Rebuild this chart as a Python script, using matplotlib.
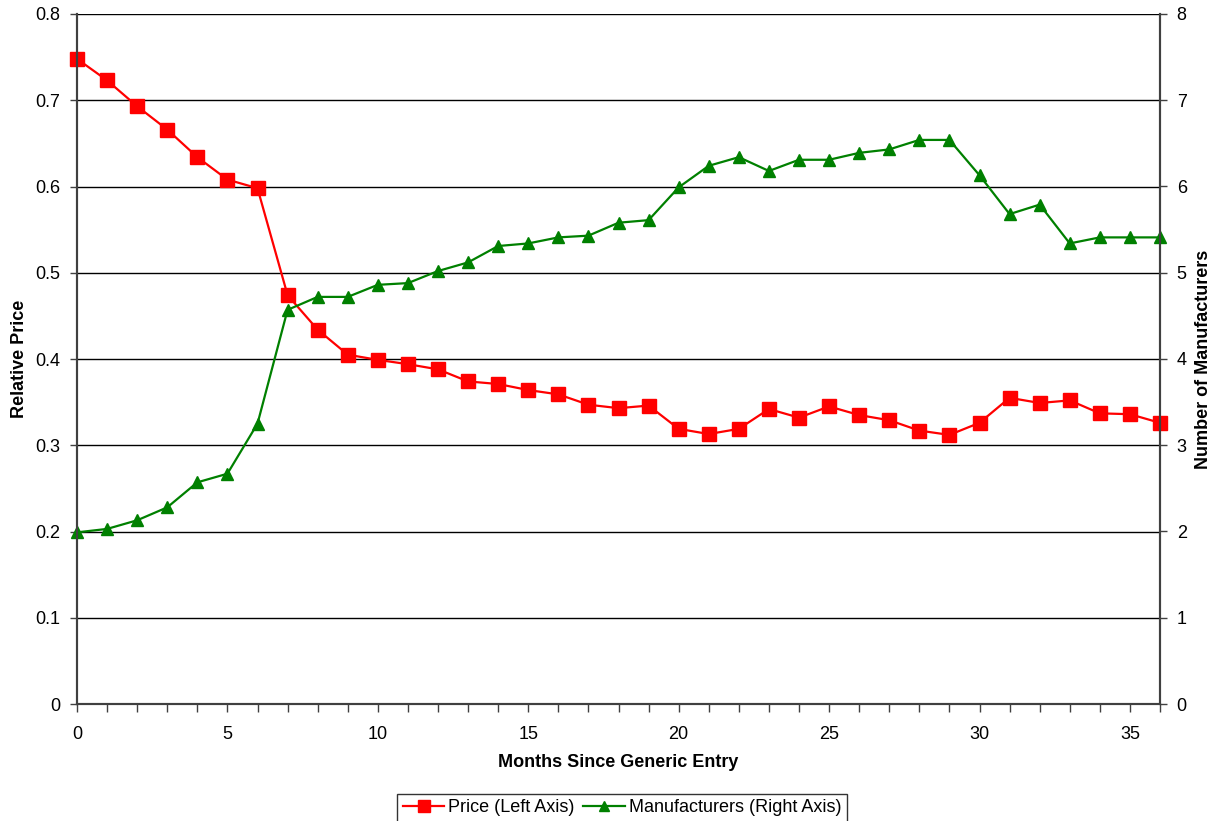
import matplotlib
matplotlib.use("Agg")
import matplotlib.pyplot as plt
from matplotlib.ticker import MultipleLocator

plt.rcParams['font.family'] = ['Liberation Sans', 'DejaVu Sans']

months = list(range(37))
price = [0.748, 0.723, 0.693, 0.666, 0.634, 0.608, 0.598, 0.474, 0.434, 0.405,
         0.399, 0.394, 0.388, 0.374, 0.371, 0.364, 0.359, 0.347, 0.343, 0.346,
         0.319, 0.313, 0.319, 0.342, 0.332, 0.345, 0.335, 0.329, 0.317, 0.312,
         0.326, 0.355, 0.349, 0.352, 0.337, 0.336, 0.326]
manufacturers = [1.99, 2.03, 2.13, 2.28, 2.57, 2.67, 3.25, 4.57, 4.72, 4.72,
                 4.86, 4.88, 5.02, 5.12, 5.31, 5.34, 5.41, 5.43, 5.58, 5.61,
                 5.99, 6.24, 6.34, 6.18, 6.31, 6.31, 6.39, 6.43, 6.54, 6.54,
                 6.13, 5.68, 5.79, 5.34, 5.41, 5.41, 5.41]
left_ticks = [0, 0.1, 0.2, 0.3, 0.4, 0.5, 0.6, 0.7, 0.8]
left_labels = ['0', '0.1', '0.2', '0.3', '0.4', '0.5', '0.6', '0.7', '0.8']

fig = plt.figure(figsize=(12.19, 8.21), dpi=100)
ax = fig.add_axes([77/1219, 1-704/821, (1160-77)/1219, (704-14)/821])
ax2 = ax.twinx()

ax.set_xlim(0, 36)
ax.set_ylim(0, 0.8)
ax2.set_ylim(0, 8)

ax2.yaxis.set_major_locator(MultipleLocator(1))
ax.xaxis.set_major_locator(MultipleLocator(5))
ax.xaxis.set_minor_locator(MultipleLocator(1))
ax.set_yticks(left_ticks)
ax.set_yticklabels(left_labels)

ax.grid(axis='y', color='black', linewidth=1.0)
ax.set_axisbelow(True)

for a in (ax, ax2):
    a.spines['top'].set_visible(False)
    for s in ('left', 'right', 'bottom'):
        a.spines[s].set_color('#404040')
        a.spines[s].set_linewidth(1.5)

ax.tick_params(axis='y', which='major', labelsize=13, length=5, width=1, color='#404040',
               direction='out', pad=7)
ax.tick_params(axis='x', which='major', labelsize=13, length=6, width=1, color='#404040',
               direction='out', pad=10)
ax.tick_params(axis='x', which='minor', length=6, width=1, color='#404040', direction='out')
ax2.tick_params(axis='y', labelsize=13, length=5, width=1, color='#404040', direction='out', pad=7)

l1, = ax.plot(months, price, color='#FF0000', linewidth=1.6, marker='s', markersize=10,
              markerfacecolor='#FF0000', markeredgecolor='#FF0000', clip_on=False,
              label='Price (Left Axis)')
l2, = ax2.plot(months, manufacturers, color='#008000', linewidth=1.6, marker='^', markersize=9,
               markerfacecolor='#008000', markeredgecolor='#008000', clip_on=False,
               label='Manufacturers (Right Axis)')

ax.set_xlabel('Months Since Generic Entry', fontsize=13, fontweight='bold', labelpad=8)
ax.set_ylabel('Relative Price', fontsize=13, fontweight='bold', labelpad=5)
ax2.set_ylabel('Number of Manufacturers', fontsize=13, fontweight='bold', labelpad=6)

leg = fig.legend(handles=[l1, l2], loc='upper center', bbox_to_anchor=(622/1219, 1-794/821),
                 ncol=2, fontsize=13, frameon=True, fancybox=False, edgecolor='black',
                 handlelength=2.3, columnspacing=0.5, handletextpad=0.2, borderpad=0.3,
                 markerscale=0.8, borderaxespad=0)
leg.get_frame().set_linewidth(1.0)

fig.savefig('out.png', dpi=100)
